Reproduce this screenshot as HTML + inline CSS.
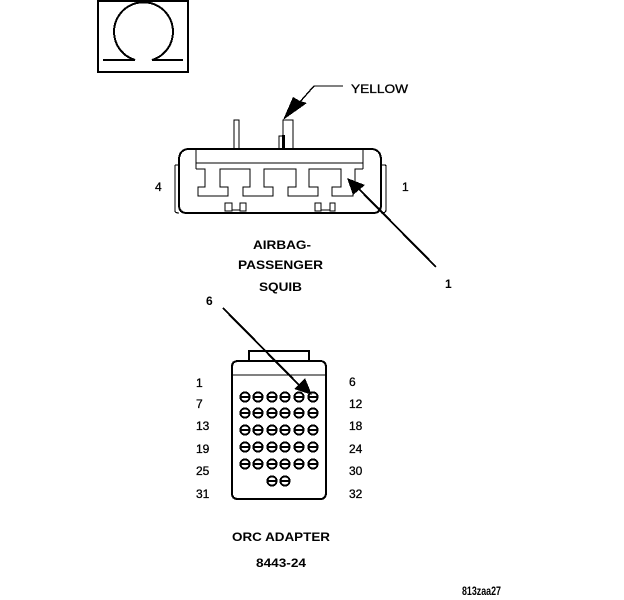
<!DOCTYPE html>
<html><head><meta charset="utf-8">
<style>
html,body{margin:0;padding:0;background:#fff}
svg{display:block;shape-rendering:crispEdges}
text{font-family:"Liberation Sans",sans-serif;fill:#000;font-size:12px}
.b{font-weight:bold}
.t{stroke:#000;stroke-width:.3}
</style></head>
<body>
<svg width="624" height="600" viewBox="0 0 624 600" xmlns="http://www.w3.org/2000/svg">
<!-- Omega box -->
<rect x="98" y="1" width="90" height="71" fill="none" stroke="#000" stroke-width="2"/>
<path d="M103 60H135A29.5 29.5 0 1 1 152 60H183" fill="none" stroke="#000" stroke-width="2"/>

<!-- Yellow leader -->
<path d="M343 86H314L291 112" fill="none" stroke="#000" stroke-width="1.4"/>
<polygon points="283,120 293,97 300,101 307,103" fill="#000"/>
<text class="t" x="351" y="93" textLength="57" lengthAdjust="spacingAndGlyphs">YELLOW</text>

<!-- Wires -->
<path d="M234 148V120H239V148" fill="#fff" stroke="#000" stroke-width="1.4"/>
<path d="M283 148V120H293V148" fill="#fff" stroke="#000" stroke-width="1.4"/>
<path d="M279 148V136H283" fill="none" stroke="#000" stroke-width="1.2"/>
<rect x="282" y="135" width="3" height="14" fill="#000"/>

<!-- Connector body -->
<path d="M175 165H179M175 165V211Q175 213 179 213" fill="none" stroke="#000" stroke-width="1.2"/>
<path d="M381 165H385Q386 165 386 167V210Q386 213 381 213" fill="none" stroke="#000" stroke-width="1.2"/>
<path d="M188 149H372Q381 150 381 160V205Q381 213 373 213H187Q179 213 179 205V160Q179 150 188 149Z" fill="#fff" stroke="#000" stroke-width="2"/>
<path d="M196 149V169M363 149V169" stroke="#000" stroke-width="1.2" fill="none"/>
<path d="M196 163H363" stroke="#000" stroke-width="1.4"/>
<path d="M196 169H205V187H198V196H228V187H220V169H250V187H243V196H273V187H264V169H296V187H288V196H318V187H309V169H341V187H332V196H353V187H355V169H363" fill="none" stroke="#000" stroke-width="1.2"/>
<!-- small pins -->
<path d="M225 203H232V211H225ZM240 203H246V211H240ZM315 203H321V211H315ZM330 203H335V211H330Z" fill="none" stroke="#000" stroke-width="1.2"/>
<path d="M232 210H240M321 210H330" stroke="#000" stroke-width="1.2"/>

<!-- Arrow 1 -->
<line x1="436" y1="267" x2="358" y2="188" stroke="#000" stroke-width="2"/>
<polygon points="347,178 365,185 353,195" fill="#000"/>
<text class="t" x="155" y="191" font-size="11">4</text>
<text class="t" x="402" y="191" font-size="11">1</text>

<!-- Labels -->
<text class="b" x="253" y="249" textLength="58" lengthAdjust="spacingAndGlyphs">AIRBAG-</text>
<text class="b" x="238" y="269" textLength="85" lengthAdjust="spacingAndGlyphs">PASSENGER</text>
<text class="b" x="259" y="291" textLength="43" lengthAdjust="spacingAndGlyphs">SQUIB</text>
<text class="b" x="445" y="288">1</text>
<text class="b" x="206" y="305" font-size="11">6</text>

<!-- ORC adapter -->
<path d="M249 361V351H309V361" fill="none" stroke="#000" stroke-width="2"/>
<path d="M238 361H320Q326 361 326 367V493Q326 499 320 499H238Q232 499 232 493V367Q232 361 238 361Z" fill="#fff" stroke="#000" stroke-width="2"/>
<path d="M232 375H326" stroke="#000" stroke-width="1.4"/>

<g fill="#fff" stroke="#000" stroke-width="1.9">
<circle cx="245" cy="397" r="4.6"/><circle cx="258" cy="397" r="4.6"/><circle cx="272" cy="397" r="4.6"/><circle cx="285" cy="397" r="4.6"/><circle cx="299" cy="397" r="4.6"/><circle cx="313" cy="397" r="4.6"/>
<circle cx="245" cy="413" r="4.6"/><circle cx="258" cy="413" r="4.6"/><circle cx="272" cy="413" r="4.6"/><circle cx="285" cy="413" r="4.6"/><circle cx="299" cy="413" r="4.6"/><circle cx="313" cy="413" r="4.6"/>
<circle cx="245" cy="430" r="4.6"/><circle cx="258" cy="430" r="4.6"/><circle cx="272" cy="430" r="4.6"/><circle cx="285" cy="430" r="4.6"/><circle cx="299" cy="430" r="4.6"/><circle cx="313" cy="430" r="4.6"/>
<circle cx="245" cy="447" r="4.6"/><circle cx="258" cy="447" r="4.6"/><circle cx="272" cy="447" r="4.6"/><circle cx="285" cy="447" r="4.6"/><circle cx="299" cy="447" r="4.6"/><circle cx="313" cy="447" r="4.6"/>
<circle cx="245" cy="464" r="4.6"/><circle cx="258" cy="464" r="4.6"/><circle cx="272" cy="464" r="4.6"/><circle cx="285" cy="464" r="4.6"/><circle cx="299" cy="464" r="4.6"/><circle cx="313" cy="464" r="4.6"/>
<circle cx="272" cy="481" r="4.6"/><circle cx="285" cy="481" r="4.6"/>
</g>
<path stroke="#000" stroke-width="1.6" d="M241 397h8M254 397h8M268 397h8M281 397h8M295 397h8M309 397h8M241 413h8M254 413h8M268 413h8M281 413h8M295 413h8M309 413h8M241 430h8M254 430h8M268 430h8M281 430h8M295 430h8M309 430h8M241 447h8M254 447h8M268 447h8M281 447h8M295 447h8M309 447h8M241 464h8M254 464h8M268 464h8M281 464h8M295 464h8M309 464h8M268 481h8M281 481h8"/>

<!-- Arrow 6 -->
<line x1="223" y1="308" x2="300" y2="386" stroke="#000" stroke-width="2"/>
<polygon points="312,395 294,389 305,378" fill="#000"/>

<!-- Pin numbers -->
<g class="t" font-size="13">
<text x="196" y="387" font-size="13">1</text><text x="196" y="408" font-size="13">7</text>
<text x="196" y="430" font-size="13">13</text><text x="196" y="453" font-size="13">19</text>
<text x="196" y="475" font-size="13">25</text><text x="196" y="498" font-size="13">31</text>
<text x="349" y="386" font-size="13">6</text><text x="349" y="408" font-size="13">12</text>
<text x="349" y="430" font-size="13">18</text><text x="349" y="453" font-size="13">24</text>
<text x="349" y="475" font-size="13">30</text><text x="349" y="498" font-size="13">32</text>
</g>

<text class="b" x="232" y="541" textLength="98" lengthAdjust="spacingAndGlyphs">ORC ADAPTER</text>
<text class="b" x="256" y="567" textLength="50" lengthAdjust="spacingAndGlyphs">8443-24</text>
<text class="b" x="462" y="595" font-size="8" textLength="39" lengthAdjust="spacingAndGlyphs">813zaa27</text>
</svg>
</body></html>
